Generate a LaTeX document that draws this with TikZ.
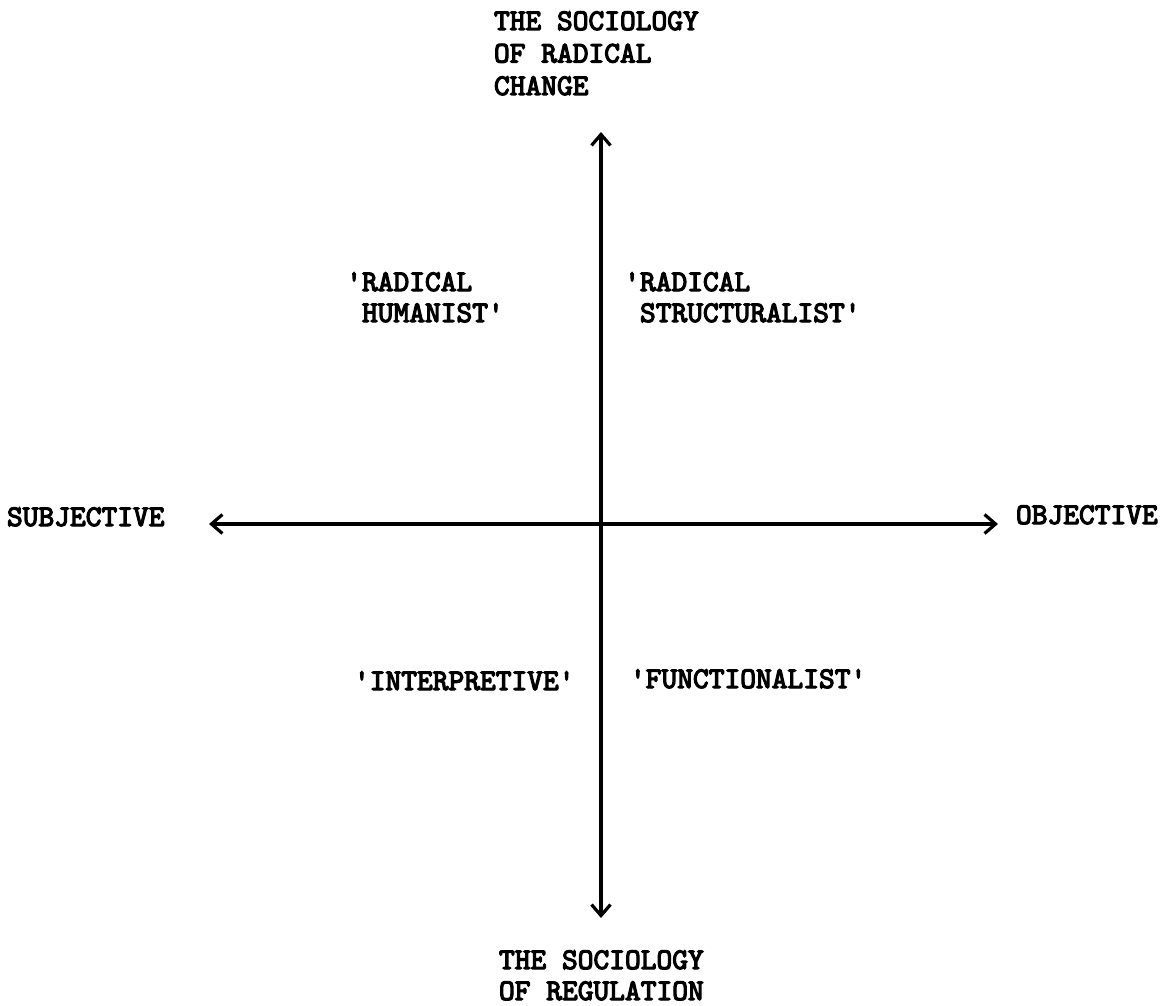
\documentclass[tikz,border=0pt]{standalone}
\usepackage{fontspec}
\newfontfamily\tw{lmmono10-regular.otf}[FakeBold=4]
\usetikzlibrary{arrows.meta}
\newcommand{\aq}{\textquotesingle}
\tikzset{
  lbl/.style={inner sep=0pt, outer sep=0pt, anchor=base west, align=left,
    font=\tw\fontsize{30}{31}\selectfont},
  axis/.style={line width=3.8pt, {Straight Barb[length=11pt,width=19pt,line width=3.2pt]}-{Straight Barb[length=11pt,width=19pt,line width=3.2pt]}}
}
\begin{document}
\begin{tikzpicture}[x=1pt,y=-1pt]
\useasboundingbox[fill=white] (0,0) rectangle (1171,1006);
\coordinate (top) at (601,132);
\coordinate (bot) at (601,918);
\coordinate (lft) at (209,524);
\coordinate (rgt) at (998,524);
\draw[axis] (bot) -- (top);
\draw[axis] (lft) -- (rgt);
\node[lbl, font=\tw\fontsize{30}{32.5}\selectfont] (radchange) at (494,95) {THE SOCIOLOGY\\OF RADICAL\\CHANGE};
\node[lbl] (regulation) at (499,1000) {THE SOCIOLOGY\\OF REGULATION};
\node[lbl] (subj) at (7,526) {SUBJECTIVE};
\node[lbl] (obj) at (1016,524) {OBJECTIVE};
\node[lbl] (rh) at (362,322) {\llap{\aq}RADICAL\\HUMANIST\aq};
\node[lbl] (rs) at (640,322) {\llap{\aq}RADICAL\\STRUCTURALIST\aq};
\node[lbl] (interp) at (354,690) {\aq INTERPRETIVE\aq};
\node[lbl] (func) at (630,688) {\aq FUNCTIONALIST\aq};
\end{tikzpicture}
\end{document}
